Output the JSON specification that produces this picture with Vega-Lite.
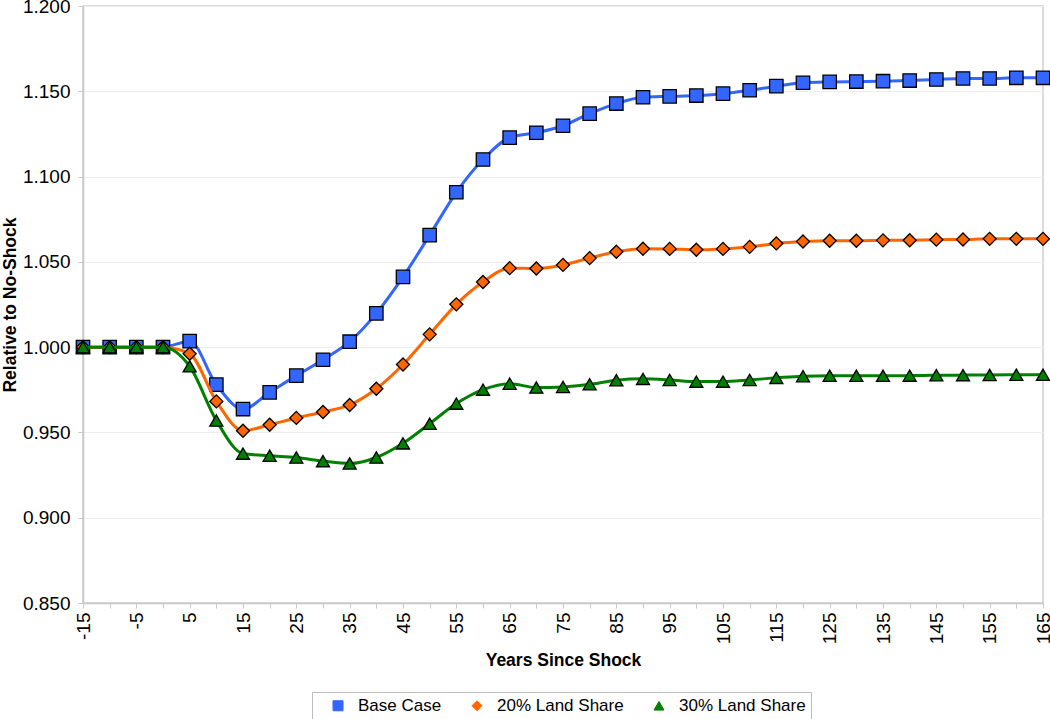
{
  "$schema": "https://vega.github.io/schema/vega-lite/v6.json",
  "autosize": "none",
  "width": 960,
  "height": 597,
  "padding": {"left": 83, "top": 6, "right": 7, "bottom": 116},
  "background": "white",
  "config": {
    "font": "Liberation Sans",
    "view": {"stroke": "#d0d0d0", "strokeWidth": 1.5}
  },
  "data": {"values": [
    {"t": -15, "series": "Base Case", "v": 1.0},
    {"t": -10, "series": "Base Case", "v": 1.0},
    {"t": -5, "series": "Base Case", "v": 1.0},
    {"t": 0, "series": "Base Case", "v": 1.0},
    {"t": 5, "series": "Base Case", "v": 1.0035},
    {"t": 10, "series": "Base Case", "v": 0.978},
    {"t": 15, "series": "Base Case", "v": 0.9637},
    {"t": 20, "series": "Base Case", "v": 0.9735},
    {"t": 25, "series": "Base Case", "v": 0.9833},
    {"t": 30, "series": "Base Case", "v": 0.9926},
    {"t": 35, "series": "Base Case", "v": 1.0032},
    {"t": 40, "series": "Base Case", "v": 1.0198},
    {"t": 45, "series": "Base Case", "v": 1.0412},
    {"t": 50, "series": "Base Case", "v": 1.0657},
    {"t": 55, "series": "Base Case", "v": 1.0908},
    {"t": 60, "series": "Base Case", "v": 1.110},
    {"t": 65, "series": "Base Case", "v": 1.1228},
    {"t": 70, "series": "Base Case", "v": 1.1257},
    {"t": 75, "series": "Base Case", "v": 1.1298},
    {"t": 80, "series": "Base Case", "v": 1.1369},
    {"t": 85, "series": "Base Case", "v": 1.1428},
    {"t": 90, "series": "Base Case", "v": 1.1465},
    {"t": 95, "series": "Base Case", "v": 1.147},
    {"t": 100, "series": "Base Case", "v": 1.1475},
    {"t": 105, "series": "Base Case", "v": 1.1486},
    {"t": 110, "series": "Base Case", "v": 1.1506},
    {"t": 115, "series": "Base Case", "v": 1.153},
    {"t": 120, "series": "Base Case", "v": 1.155},
    {"t": 125, "series": "Base Case", "v": 1.1555},
    {"t": 130, "series": "Base Case", "v": 1.1557},
    {"t": 135, "series": "Base Case", "v": 1.1559},
    {"t": 140, "series": "Base Case", "v": 1.1563},
    {"t": 145, "series": "Base Case", "v": 1.1569},
    {"t": 150, "series": "Base Case", "v": 1.1575},
    {"t": 155, "series": "Base Case", "v": 1.1575},
    {"t": 160, "series": "Base Case", "v": 1.1579},
    {"t": 165, "series": "Base Case", "v": 1.1579},
    {"t": -15, "series": "20% Land Share", "v": 1.0},
    {"t": -10, "series": "20% Land Share", "v": 1.0},
    {"t": -5, "series": "20% Land Share", "v": 1.0},
    {"t": 0, "series": "20% Land Share", "v": 1.0},
    {"t": 5, "series": "20% Land Share", "v": 0.9961},
    {"t": 10, "series": "20% Land Share", "v": 0.9682},
    {"t": 15, "series": "20% Land Share", "v": 0.951},
    {"t": 20, "series": "20% Land Share", "v": 0.9545},
    {"t": 25, "series": "20% Land Share", "v": 0.9585},
    {"t": 30, "series": "20% Land Share", "v": 0.962},
    {"t": 35, "series": "20% Land Share", "v": 0.9661},
    {"t": 40, "series": "20% Land Share", "v": 0.9756},
    {"t": 45, "series": "20% Land Share", "v": 0.9898},
    {"t": 50, "series": "20% Land Share", "v": 1.0075},
    {"t": 55, "series": "20% Land Share", "v": 1.0251},
    {"t": 60, "series": "20% Land Share", "v": 1.0382},
    {"t": 65, "series": "20% Land Share", "v": 1.0463},
    {"t": 70, "series": "20% Land Share", "v": 1.0461},
    {"t": 75, "series": "20% Land Share", "v": 1.0482},
    {"t": 80, "series": "20% Land Share", "v": 1.0522},
    {"t": 85, "series": "20% Land Share", "v": 1.0559},
    {"t": 90, "series": "20% Land Share", "v": 1.0577},
    {"t": 95, "series": "20% Land Share", "v": 1.0576},
    {"t": 100, "series": "20% Land Share", "v": 1.0571},
    {"t": 105, "series": "20% Land Share", "v": 1.0576},
    {"t": 110, "series": "20% Land Share", "v": 1.0588},
    {"t": 115, "series": "20% Land Share", "v": 1.0608},
    {"t": 120, "series": "20% Land Share", "v": 1.0619},
    {"t": 125, "series": "20% Land Share", "v": 1.0624},
    {"t": 130, "series": "20% Land Share", "v": 1.0624},
    {"t": 135, "series": "20% Land Share", "v": 1.0626},
    {"t": 140, "series": "20% Land Share", "v": 1.0627},
    {"t": 145, "series": "20% Land Share", "v": 1.063},
    {"t": 150, "series": "20% Land Share", "v": 1.0631},
    {"t": 155, "series": "20% Land Share", "v": 1.0635},
    {"t": 160, "series": "20% Land Share", "v": 1.0635},
    {"t": 165, "series": "20% Land Share", "v": 1.0635},
    {"t": -15, "series": "30% Land Share", "v": 1.0},
    {"t": -10, "series": "30% Land Share", "v": 1.0},
    {"t": -5, "series": "30% Land Share", "v": 1.0},
    {"t": 0, "series": "30% Land Share", "v": 1.0},
    {"t": 5, "series": "30% Land Share", "v": 0.9888},
    {"t": 10, "series": "30% Land Share", "v": 0.957},
    {"t": 15, "series": "30% Land Share", "v": 0.9376},
    {"t": 20, "series": "30% Land Share", "v": 0.9363},
    {"t": 25, "series": "30% Land Share", "v": 0.9353},
    {"t": 30, "series": "30% Land Share", "v": 0.9332},
    {"t": 35, "series": "30% Land Share", "v": 0.9318},
    {"t": 40, "series": "30% Land Share", "v": 0.9353},
    {"t": 45, "series": "30% Land Share", "v": 0.9436},
    {"t": 50, "series": "30% Land Share", "v": 0.9551},
    {"t": 55, "series": "30% Land Share", "v": 0.9669},
    {"t": 60, "series": "30% Land Share", "v": 0.9751},
    {"t": 65, "series": "30% Land Share", "v": 0.9786},
    {"t": 70, "series": "30% Land Share", "v": 0.9763},
    {"t": 75, "series": "30% Land Share", "v": 0.9767},
    {"t": 80, "series": "30% Land Share", "v": 0.9782},
    {"t": 85, "series": "30% Land Share", "v": 0.9806},
    {"t": 90, "series": "30% Land Share", "v": 0.9814},
    {"t": 95, "series": "30% Land Share", "v": 0.9808},
    {"t": 100, "series": "30% Land Share", "v": 0.9798},
    {"t": 105, "series": "30% Land Share", "v": 0.9798},
    {"t": 110, "series": "30% Land Share", "v": 0.9808},
    {"t": 115, "series": "30% Land Share", "v": 0.982},
    {"t": 120, "series": "30% Land Share", "v": 0.983},
    {"t": 125, "series": "30% Land Share", "v": 0.9832},
    {"t": 130, "series": "30% Land Share", "v": 0.9832},
    {"t": 135, "series": "30% Land Share", "v": 0.9832},
    {"t": 140, "series": "30% Land Share", "v": 0.9833},
    {"t": 145, "series": "30% Land Share", "v": 0.9835},
    {"t": 150, "series": "30% Land Share", "v": 0.9836},
    {"t": 155, "series": "30% Land Share", "v": 0.9837},
    {"t": 160, "series": "30% Land Share", "v": 0.9838},
    {"t": 165, "series": "30% Land Share", "v": 0.9838}
  ]},
  "encoding": {
    "x": {
      "field": "t", "type": "quantitative",
      "scale": {"domain": [-15, 165], "nice": false, "zero": false},
      "axis": {
        "title": "Years Since Shock",
        "titleFont": "Liberation Sans", "titleFontSize": 17.5, "titleFontWeight": "bold", "titleColor": "black",
        "titlePadding": 8,
        "values": [-15,-10,-5,0,5,10,15,20,25,30,35,40,45,50,55,60,65,70,75,80,85,90,95,100,105,110,115,120,125,130,135,140,145,150,155,160,165],
        "labelExpr": "abs(datum.value) % 10 == 5 ? toString(datum.value) : ''",
        "labelAngle": -90, "labelAlign": "right", "labelBaseline": "middle",
        "labelFontSize": 19, "labelColor": "black", "labelPadding": 4,
        "labelOverlap": false, "labelFlush": false, "labelBound": false,
        "grid": false,
        "domainColor": "#c8c8c8", "domainWidth": 1.5,
        "tickColor": "#c8c8c8", "tickSize": 5, "tickWidth": 1
      }
    },
    "y": {
      "field": "v", "type": "quantitative",
      "scale": {"domain": [0.85, 1.2], "nice": false, "zero": false},
      "axis": {
        "title": "Relative to No-Shock",
        "titleFont": "Liberation Sans", "titleFontSize": 17.5, "titleFontWeight": "bold", "titleColor": "black",
        "titlePadding": 3,
        "values": [0.85, 0.9, 0.95, 1.0, 1.05, 1.1, 1.15, 1.2],
        "format": ".3f",
        "labelFontSize": 19, "labelColor": "black", "labelPadding": 8,
        "labelFlush": false,
        "grid": true, "gridColor": "#ededed", "gridWidth": 1,
        "domainColor": "#c8c8c8", "domainWidth": 1.5,
        "tickColor": "#c8c8c8", "tickSize": 5
      }
    },
    "color": {
      "field": "series", "type": "nominal",
      "scale": {"domain": ["Base Case", "20% Land Share", "30% Land Share"], "range": ["#3366ff", "#ff6600", "#008000"]},
      "legend": {
        "title": null,
        "orient": "none", "legendX": 229, "legendY": 686,
        "direction": "horizontal",
        "strokeColor": "#bdbdbd",
        "padding": 5,
        "labelFontSize": 17, "labelColor": "black", "labelFont": "Liberation Sans",
        "symbolSize": 100, "symbolOffset": 12.5,
        "symbolStrokeColor": "black", "symbolStrokeWidth": 1,
        "columnPadding": 14, "labelOffset": 11.5
      }
    },
    "shape": {
      "field": "series", "type": "nominal",
      "scale": {"domain": ["Base Case", "20% Land Share", "30% Land Share"], "range": ["square", "diamond", "triangle-up"]}
    }
  },
  "layer": [
    {"transform": [{"filter": "datum.series == 'Base Case'"}], "mark": {"type": "line", "strokeWidth": 3, "interpolate": "monotone"}},
    {"transform": [{"filter": "datum.series == 'Base Case'"}], "mark": {"type": "point", "filled": true, "size": 180, "stroke": "black", "strokeWidth": 1.3, "opacity": 1}},
    {"transform": [{"filter": "datum.series == '20% Land Share'"}], "mark": {"type": "line", "strokeWidth": 3, "interpolate": "monotone"}},
    {"transform": [{"filter": "datum.series == '20% Land Share'"}], "mark": {"type": "point", "filled": true, "size": 170, "stroke": "black", "strokeWidth": 1.3, "opacity": 1}},
    {"transform": [{"filter": "datum.series == '30% Land Share'"}], "mark": {"type": "line", "strokeWidth": 3, "interpolate": "monotone"}},
    {"transform": [{"filter": "datum.series == '30% Land Share'"}], "mark": {"type": "point", "filled": true, "size": 170, "stroke": "black", "strokeWidth": 1.3, "opacity": 1}}
  ]
}
